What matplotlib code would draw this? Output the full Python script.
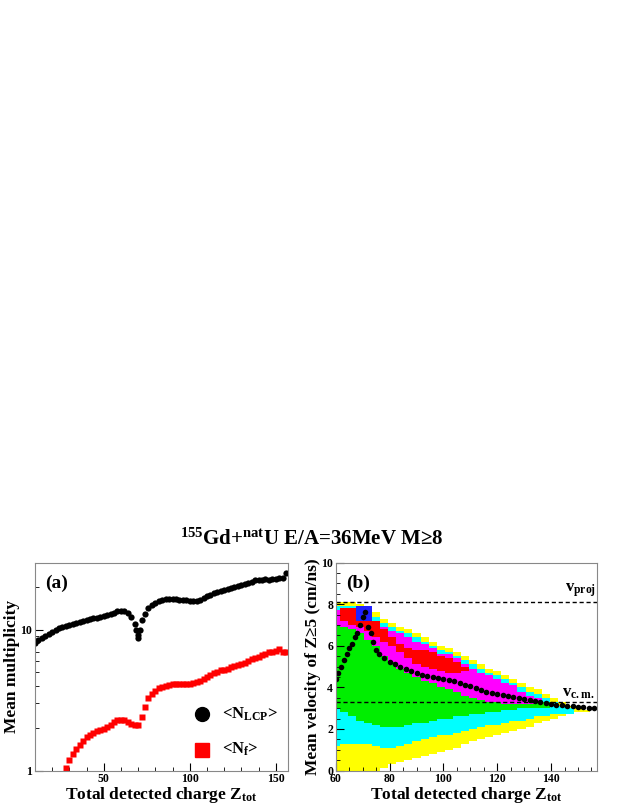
import numpy as np
import matplotlib
matplotlib.use("Agg")
import matplotlib.pyplot as plt
from matplotlib.colors import ListedColormap, BoundaryNorm

# ---- panel (a): mean multiplicities vs Ztot
lcp_z = [10, 12, 14, 16, 18, 20, 22, 24, 26, 28, 30, 32, 34, 36, 38, 40, 42, 44, 46, 48,
         50, 52, 54, 56, 58, 60, 62, 64, 66, 68, 69, 70, 70, 71, 72, 74, 76, 78, 80, 82,
         84, 86, 88, 90, 92, 94, 96, 98, 100, 102, 104, 106, 108, 110, 112, 114, 116, 118,
         120, 122, 124, 126, 128, 130, 132, 134, 136, 138, 140, 142, 144, 146, 148, 150,
         152, 154, 156]
lcp_m = [8.1, 8.4, 8.7, 9.0, 9.4, 9.7, 10.0, 10.3, 10.5, 10.7, 10.8, 11.0, 11.2, 11.4,
         11.6, 11.7, 11.9, 12.1, 12.2, 12.4, 12.5, 12.7, 12.9, 13.2, 13.5, 13.6, 13.5,
         13.1, 12.3, 11.0, 10.0, 9.2, 8.8, 9.9, 11.8, 13.0, 14.2, 15.0, 15.6, 16.0, 16.3,
         16.5, 16.6, 16.6, 16.5, 16.4, 16.3, 16.2, 16.0, 15.9, 16.0, 16.3, 16.8, 17.3,
         17.8, 18.2, 18.6, 18.9, 19.2, 19.5, 19.9, 20.2, 20.5, 20.8, 21.2, 21.6, 22.0,
         22.4, 22.6, 22.7, 22.9, 22.6, 23.0, 22.8, 23.4, 23.3, 25.5]
nf_z = list(range(26, 157, 2))
nf_m = [0.95, 1.05, 1.19, 1.3, 1.42, 1.52, 1.63, 1.73, 1.8, 1.86, 1.9, 1.95, 1.98, 2.05,
        2.12, 2.2, 2.27, 2.3, 2.28, 2.22, 2.15, 2.1, 2.12, 2.4, 2.85, 3.25, 3.5, 3.7,
        3.85, 3.95, 4.0, 4.05, 4.1, 4.1, 4.12, 4.13, 4.15, 4.15, 4.18, 4.25, 4.35, 4.5,
        4.65, 4.8, 4.95, 5.05, 5.15, 5.2, 5.3, 5.4, 5.5, 5.6, 5.7, 5.85, 6.0, 6.15, 6.3,
        6.45, 6.6, 6.75, 6.9, 7.0, 7.1, 7.3, 7.0, 6.9]

# ---- panel (b): band boundaries of the density map, per Ztot column (60..156, step 3)
col_z = list(range(60, 157, 3))
upper = [8.1, 8.1, 8.1, 8.0, 7.9, 7.6, 7.3, 7.1, 6.9, 6.8, 6.6, 6.4, 6.2, 6.0, 5.9, 5.7,
         5.5, 5.3, 5.1, 4.9, 4.8, 4.6, 4.4, 4.2, 4.0, 3.9, 3.7, 3.5, 3.3, 3.1, 3.0, 2.9, 2.9]
mag_bot = [7.0, 6.9, 6.8, 6.6, 6.3, 6.0, 5.5, 5.2, 4.9, 4.7, 4.5, 4.3, 4.2, 4.0, 3.9, 3.8,
           3.6, 3.5, 3.4, 3.3, 3.3, 3.2, 3.2, 3.2, 3.2, 3.3, 9, 9, 9, 9, 9, 9, 9]
red_top = [0, 7.8, 7.8, 7.8, 7.6, 7.2, 6.8, 6.4, 6.1, 5.9, 5.8, 5.8, 5.7, 5.5, 5.4, 5.2,
           5.0] + [0] * 16
red_bot = [0, 7.2, 7.0, 6.9, 6.7, 6.4, 6.2, 6.0, 5.7, 5.4, 5.1, 5.0, 4.9, 4.8, 4.7, 4.7,
           4.8] + [0] * 16
cyan_top = [3.0, 2.8, 2.6, 2.4, 2.3, 2.2, 2.1, 2.1, 2.1, 2.2, 2.3, 2.3, 2.4, 2.5, 2.5, 2.6,
            2.6, 2.7, 2.7, 2.8, 2.8, 2.9, 2.9, 3.0, 3.0, 3.0, 3.0, 3.1, 3.1, 3.1, 3.1, 3.0, 3.0]
yel_top = [1.2, 1.3, 1.3, 1.3, 1.3, 1.2, 1.1, 1.1, 1.2, 1.3, 1.4, 1.5, 1.6, 1.7, 1.7, 1.8,
           1.9, 2.0, 2.1, 2.2, 2.2, 2.3, 2.4, 2.4, 2.5, 2.6, 2.6, 2.7, 2.7, 2.8, 2.8, 2.9, 2.9]
lower = [0, 0, 0, 0, 0, 0, 0.1, 0.3, 0.4, 0.5, 0.6, 0.7, 0.8, 0.9, 1.0, 1.1, 1.3, 1.4,
         1.5, 1.6, 1.7, 1.8, 1.9, 2.0, 2.1, 2.3, 2.4, 2.5, 2.6, 2.7, 2.8, 2.8, 2.9]
# mean velocity profile
vel_z = [60, 61, 62, 63, 64, 65, 66, 67, 68, 69, 70, 71, 72, 73, 74, 75, 76, 78, 80, 82,
         84, 86, 88, 90, 92, 94, 96, 98, 100, 102, 104, 106, 108, 110, 112, 114, 116, 118,
         120, 122, 124, 126, 128, 130, 132, 134, 136, 138, 140, 142, 144, 146, 148, 150,
         152, 154, 156]
vel_v = [4.4, 4.7, 5.0, 5.3, 5.6, 5.9, 6.1, 6.4, 6.6, 7.0, 7.4, 7.6, 6.9, 6.6, 6.2, 5.8,
         5.6, 5.4, 5.2, 5.1, 5.0, 4.9, 4.8, 4.7, 4.6, 4.55, 4.5, 4.45, 4.4, 4.35, 4.3, 4.2,
         4.1, 4.05, 3.95, 3.85, 3.8, 3.75, 3.7, 3.65, 3.6, 3.55, 3.5, 3.45, 3.4, 3.35, 3.3,
         3.25, 3.2, 3.17, 3.15, 3.12, 3.1, 3.07, 3.05, 3.02, 3.0]
v_proj, v_cm = 8.1, 3.3

FONT = "Liberation Serif"
plt.rcParams["font.family"] = FONT
plt.rcParams["font.weight"] = "bold"
plt.rcParams["axes.labelweight"] = "bold"
plt.rcParams["mathtext.fontset"] = "custom"
plt.rcParams["mathtext.rm"] = FONT + ":bold"
plt.rcParams["mathtext.bf"] = FONT + ":bold"
plt.rcParams["mathtext.default"] = "bf"

fig = plt.figure(figsize=(6.23, 8.06), dpi=100)
fig.text(0.5, 0.331, r"$^{155}$Gd+$^{nat}$U E/A=36MeV M≥8",
         ha="center", va="center", fontsize=15, fontweight="bold")


def style(ax):
    for s in ax.spines.values():
        s.set_color("#888888")
        s.set_linewidth(0.8)
    ax.tick_params(which="both", direction="in", labelsize=8.5, top=False, right=False, pad=2)
    ax.tick_params(which="major", length=6)
    ax.tick_params(which="minor", length=3)
    for lab in ax.get_xticklabels() + ax.get_yticklabels():
        lab.set_fontweight("bold")


# panel (a)
ax1 = fig.add_axes([0.056, 0.044, 0.406, 0.258])
ax1.plot(lcp_z, lcp_m, "o", color="black", ms=4.5, mec="none")
ax1.plot(nf_z, nf_m, "s", color="red", ms=4.5, mec="none")
ax1.set_yscale("log")
ax1.set_xlim(10, 157)
ax1.set_ylim(1, 30)
ax1.set_xticks([50, 100, 150])
ax1.set_xticks(range(10, 157, 10), minor=True)
ax1.set_yticks([1, 10])
ax1.set_yticklabels(["1", "10"])
ax1.yaxis.set_minor_formatter(matplotlib.ticker.NullFormatter())
style(ax1)
ax1.set_xlabel(r"Total detected charge Z$_{tot}$", fontsize=12.5, labelpad=0)
ax1.set_ylabel("Mean multiplicity", fontsize=12.5, labelpad=0)
ax1.text(0.04, 0.9, "(a)", transform=ax1.transAxes, fontsize=14, va="center")
ax1.plot([0.66], [0.27], "o", color="black", ms=10, transform=ax1.transAxes)
ax1.plot([0.66], [0.1], "s", color="red", ms=10, transform=ax1.transAxes)
ax1.text(0.74, 0.27, r"<N$_{LCP}$>", transform=ax1.transAxes, fontsize=12, va="center")
ax1.text(0.74, 0.1, r"<N$_{f}$>", transform=ax1.transAxes, fontsize=12, va="center")

# panel (b)
ax2 = fig.add_axes([0.539, 0.044, 0.419, 0.258])
vc = np.arange(0.05, 8.3, 0.1)
level = np.zeros((len(vc), len(col_z)))
for j in range(len(col_z)):
    for i, v in enumerate(vc):
        if v > upper[j] or v < lower[j]:
            lv = 0
        elif v > upper[j] - 0.15:
            lv = 1
        elif v > upper[j] - 0.35:
            lv = 2
        elif v > mag_bot[j]:
            lv = 4
        elif v > cyan_top[j]:
            lv = 3
        elif v > yel_top[j]:
            lv = 2
        else:
            lv = 1
        if red_bot[j] < v < red_top[j]:
            lv = 5
        if col_z[j] in (69, 72) and 7.2 < v < 7.9:
            lv = 6
        level[i, j] = lv
xe = np.array(col_z + [col_z[-1] + 3]) - 1.5
ye = np.arange(0, 8.31, 0.1)
cmap = ListedColormap(["white", "#ffff00", "#00ffff", "#00ee00", "#ff00ff", "#ff0000", "#2020ff"])
ax2.pcolormesh(xe, ye, level, cmap=cmap, norm=BoundaryNorm(np.arange(-0.5, 7), 7))
ax2.plot(vel_z, vel_v, "o", color="black", ms=4, mec="none")
ax2.axhline(v_proj, color="black", ls=(0, (3, 2)), lw=1)
ax2.axhline(v_cm, color="black", ls=(0, (3, 2)), lw=1)
ax2.text(145, 8.25, r"v$_{proj}$", fontsize=12, va="bottom")
ax2.text(144, 3.35, r"v$_{c.m.}$", fontsize=12, va="bottom")
ax2.set_xlim(60, 157)
ax2.set_ylim(0, 10)
ax2.set_xticks(range(60, 141, 20))
ax2.set_xticks(range(60, 157, 5), minor=True)
ax2.set_yticks(range(0, 11, 2))
ax2.set_yticks(np.arange(0, 10.1, 0.5), minor=True)
style(ax2)
ax2.set_xlabel(r"Total detected charge Z$_{tot}$", fontsize=12.5, labelpad=0)
ax2.set_ylabel("Mean velocity of Z≥5 (cm/ns)", fontsize=12.5, labelpad=0)
ax2.text(0.04, 0.9, "(b)", transform=ax2.transAxes, fontsize=14, va="center")

fig.savefig("out.png", dpi=100)
